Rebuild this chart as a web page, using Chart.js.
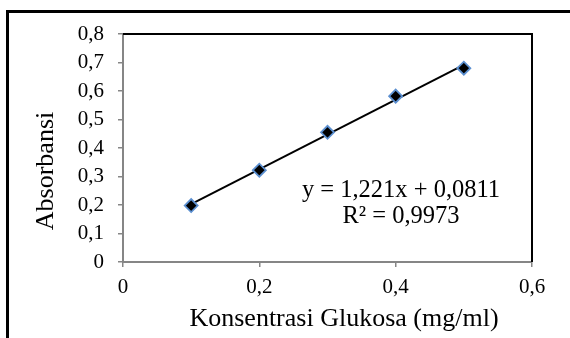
<!DOCTYPE html>
<html>
<head>
<meta charset="utf-8">
<script src="https://cdn.jsdelivr.net/npm/chart.js@4/dist/chart.umd.min.js"></script>
<style>
	html, body { margin: 0; padding: 0; background: #fff; }
	canvas { display: block; }
</style>
</head>
<body>
<canvas id="chart" width="570" height="338"></canvas>
<script>
// Measured points (Konsentrasi vs Absorbansi)
const konsentrasi = [0.1, 0.2, 0.3, 0.4, 0.5];
const absorbansi = [0.198, 0.322, 0.455, 0.582, 0.68];

// Linear trendline end points
const trendX = [0.1, 0.5];
const trendY = [0.203, 0.692];

const xTickValues = [0, 0.2, 0.4, 0.6];
const xTickLabels = ['0', '0,2', '0,4', '0,6'];
const yTickValues = [0, 0.1, 0.2, 0.3, 0.4, 0.5, 0.6, 0.7, 0.8];
const yTickLabels = ['0', '0,1', '0,2', '0,3', '0,4', '0,5', '0,6', '0,7', '0,8'];

const xTitle = 'Konsentrasi Glukosa (mg/ml)';
const yTitle = 'Absorbansi';
const equationLines = ['y = 1,221x + 0,0811', 'R² = 0,9973'];

const FONT = '"Liberation Serif", "Times New Roman", serif';
const AXIS_GREY = '#868686';

// Outer frame, plot border, titles and the trendline equation
const decorPlugin = {
	id: 'decor',
	beforeDraw(chart) {
		const ctx = chart.ctx;
		ctx.save();
		ctx.fillStyle = '#fff';
		ctx.fillRect(0, 0, chart.width, chart.height);
		ctx.strokeStyle = '#000';
		ctx.lineWidth = 3;
		ctx.beginPath();
		ctx.moveTo(7.5, chart.height);
		ctx.lineTo(7.5, 11.5);
		ctx.lineTo(chart.width, 11.5);
		ctx.stroke();
		ctx.restore();
	},
	afterDraw(chart) {
		const ctx = chart.ctx;
		const area = chart.chartArea;
		ctx.save();

		// plot area border (top and right; axes cover the other sides)
		ctx.strokeStyle = '#000';
		ctx.lineWidth = 2;
		ctx.beginPath();
		ctx.moveTo(area.left, area.top);
		ctx.lineTo(area.right, area.top);
		ctx.lineTo(area.right, area.bottom);
		ctx.stroke();

		ctx.fillStyle = '#000';
		ctx.font = `26px ${FONT}`;

		// x axis title
		ctx.textAlign = 'center';
		ctx.textBaseline = 'alphabetic';
		ctx.fillText(xTitle, 344, 326);

		// y axis title, rotated
		ctx.save();
		ctx.translate(53, 171);
		ctx.rotate(-Math.PI / 2);
		ctx.textAlign = 'center';
		ctx.fillText(yTitle, 0, 0);
		ctx.restore();

		// trendline equation
		ctx.font = `24.5px ${FONT}`;
		ctx.textAlign = 'center';
		ctx.fillText(equationLines[0], 401, 197);
		ctx.fillText(equationLines[1], 401, 223);

		ctx.restore();
	}
};

new Chart(document.getElementById('chart'), {
	type: 'scatter',
	data: {
		datasets: [
			{
				label: 'Linear',
				type: 'line',
				data: trendX.map((x, i) => ({ x, y: trendY[i] })),
				borderColor: '#000',
				borderWidth: 2,
				pointRadius: 0,
				fill: false,
				tension: 0,
				order: 2
			},
			{
				label: 'Absorbansi',
				data: konsentrasi.map((x, i) => ({ x, y: absorbansi[i] })),
				pointStyle: 'rectRot',
				pointRadius: 6.5,
				pointBackgroundColor: '#000',
				pointBorderColor: '#5b8fd0',
				pointBorderWidth: 1.8,
				order: 1
			}
		]
	},
	options: {
		responsive: false,
		animation: false,
		layout: {
			padding: { left: 0, top: 34, right: 38, bottom: 0 }
		},
		plugins: {
			legend: { display: false },
			tooltip: { enabled: false }
		},
		scales: {
			x: {
				type: 'linear',
				min: 0,
				max: 0.6,
				afterBuildTicks(scale) {
					scale.ticks = xTickValues.map((value) => ({ value }));
				},
				afterFit(scale) {
					scale.height = 76;
				},
				grid: {
					drawOnChartArea: false,
					drawTicks: true,
					tickLength: 5,
					tickColor: AXIS_GREY,
					lineWidth: 1.5
				},
				border: { display: true, color: AXIS_GREY, width: 2 },
				ticks: {
					color: '#000',
					padding: 8,
					maxRotation: 0,
					font: { family: FONT, size: 21 },
					callback: (value, index) => xTickLabels[index]
				}
			},
			y: {
				type: 'linear',
				min: 0,
				max: 0.8,
				afterBuildTicks(scale) {
					scale.ticks = yTickValues.map((value) => ({ value }));
				},
				afterFit(scale) {
					scale.width = 123;
				},
				grid: {
					drawOnChartArea: false,
					drawTicks: true,
					tickLength: 5,
					tickColor: AXIS_GREY,
					lineWidth: 1.5
				},
				border: { display: true, color: AXIS_GREY, width: 2 },
				ticks: {
					color: '#000',
					padding: 14,
					font: { family: FONT, size: 21 },
					callback: (value, index) => yTickLabels[index]
				}
			}
		}
	},
	plugins: [decorPlugin]
});
</script>
</body>
</html>
